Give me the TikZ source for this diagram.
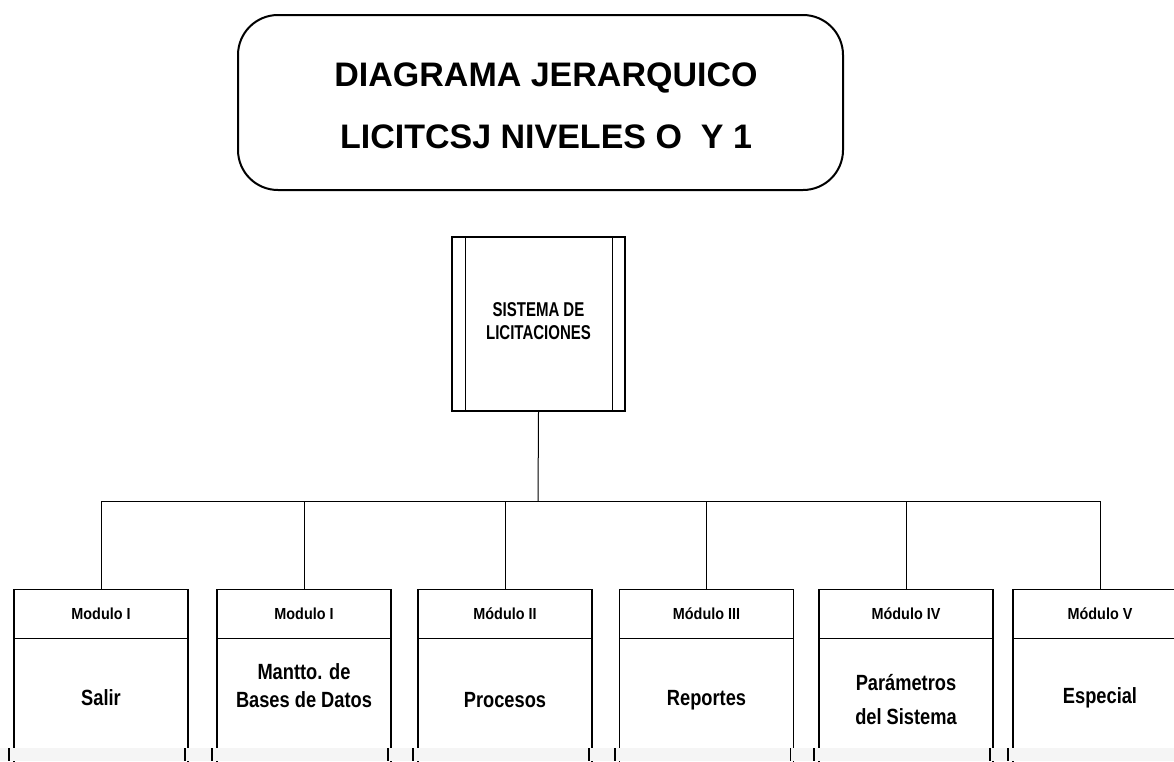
\documentclass[tikz,border=0pt]{standalone}
\usepackage{fontspec}
\setmainfont{Liberation Sans}
\newfontfamily\sysfont[FakeStretch=0.75]{Liberation Sans}
\newfontfamily\modfont[FakeStretch=0.9]{Liberation Sans}
\newfontfamily\bodyfont[FakeStretch=0.83]{Liberation Sans}
\begin{document}
\begin{tikzpicture}[x=1pt,y=-1pt,
  titlebox/.style={draw, line width=2pt, rounded corners=40pt, minimum width=605pt, minimum height=175pt, inner sep=0pt},
  titletext/.style={font=\bfseries\fontsize{34}{40}\selectfont, inner sep=0pt},
  sysbox/.style={draw, line width=1.6pt, minimum width=173pt, minimum height=174pt, inner sep=0pt},
  systext/.style={font=\sysfont\bfseries\fontsize{20}{23}\selectfont, align=center, inner sep=0pt},
  modhead/.style={draw, line width=1.6pt, minimum width=174pt, minimum height=49pt, inner sep=0pt, font=\modfont\bfseries\fontsize{16}{19}\selectfont},
  modbody/.style={draw, line width=1.6pt, minimum width=174pt, minimum height=142pt, inner sep=0pt},
  bodytext/.style={font=\bodyfont\bfseries\fontsize{22}{28}\selectfont, align=center, inner sep=0pt},
  link/.style={line width=1pt},
  stub/.style={line width=1.6pt}]
\useasboundingbox (0,0) rectangle (1174,761);
\clip (0,0) rectangle (1174,761);
\fill[white] (0,0) rectangle (1174,761);

% title
\node[titlebox] (title) at (540.5,102.5) {};
\node[titletext] (t1) at (546,78) {DIAGRAMA JERARQUICO};
\node[titletext] (t2) at (546,137) {LICITCSJ NIVELES O\ \ Y 1};

% system box
\node[sysbox] (sys) at (538.5,324) {};
\draw[line width=1.2pt] ([xshift=14pt]sys.north west) -- ([xshift=14pt]sys.south west);
\draw[line width=1.2pt] ([xshift=-13pt]sys.north east) -- ([xshift=-13pt]sys.south east);
\node[systext] (syst) at (538.5,321) {SISTEMA DE\\LICITACIONES};

% modules
\node[modhead] (h1) at (101,614) {Modulo I};
\node[modhead] (h2) at (304,614) {Modulo I};
\node[modhead] (h3) at (505,614) {Módulo II};
\node[modhead] (h4) at (706.5,614) {Módulo III};
\node[modhead] (h5) at (906,614) {Módulo IV};
\node[modhead] (h6) at (1100,614) {Módulo V};

\node[modbody] (b1) at (101,709.5) {};
\node[modbody] (b2) at (304,709.5) {};
\node[modbody] (b3) at (505,709.5) {};
\node[modbody] (b4) at (706.5,709.5) {};
\node[modbody] (b5) at (906,709.5) {};
\node[modbody] (b6) at (1100,709.5) {};

\node[bodytext] (l1) at (101,698) {Salir};
\node[bodytext] (l2) at (304,686) {Mantto. de\\Bases de Datos};
\node[bodytext] (l3) at (505,700) {Procesos};
\node[bodytext] (l4) at (706.5,700) {Reportes};
\node[bodytext] (l5) at (906,700) {Parámetros\\[6pt]del Sistema};
\node[bodytext] (l6) at (1100,698) {Especial};

% connectors
\coordinate (bus) at (538,501);
\draw[link] (sys.south) -- (bus);
\draw[link] (h1.north |- bus) -- (h6.north |- bus);
\foreach \i in {1,...,6} {\draw[link] (h\i.north) -- (h\i.north |- bus);}

% bottom scan band
\fill[gray!8] (0,748) rectangle (1174,761);
\foreach \i in {1,...,6} {
  \draw[stub] ([xshift=-4pt]b\i.west |- 0,748) -- ([xshift=-4pt]b\i.west |- 0,761);
  \draw[stub] ([xshift=-4pt]b\i.east |- 0,748) -- ([xshift=-4pt]b\i.east |- 0,761);
}
\end{tikzpicture}
\end{document}
